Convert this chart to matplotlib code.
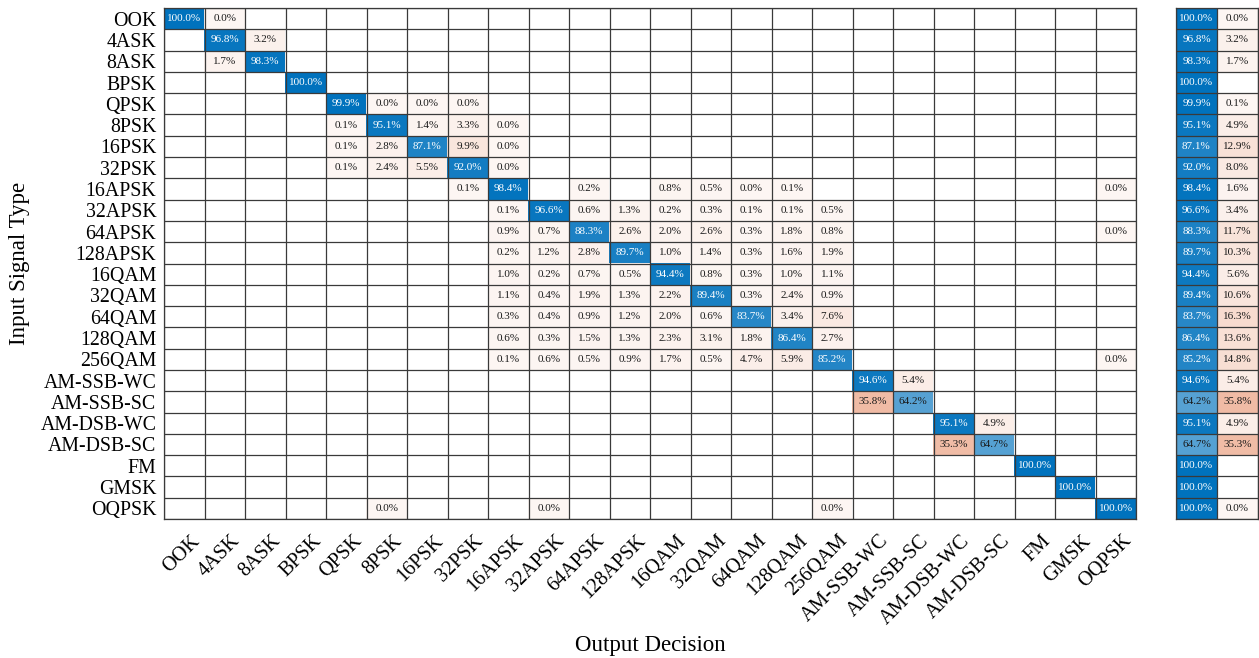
import numpy as np
import matplotlib
matplotlib.use("Agg")
import matplotlib.pyplot as plt
from matplotlib.transforms import ScaledTranslation

plt.rcParams['font.family'] = ['Liberation Serif', 'DejaVu Serif']

classes = ["OOK", "4ASK", "8ASK", "BPSK", "QPSK", "8PSK", "16PSK", "32PSK",
           "16APSK", "32APSK", "64APSK", "128APSK", "16QAM", "32QAM", "64QAM",
           "128QAM", "256QAM", "AM-SSB-WC", "AM-SSB-SC", "AM-DSB-WC",
           "AM-DSB-SC", "FM", "GMSK", "OQPSK"]

# Row-normalised confusion entries (percent): {predicted column: value}
# Cells that never occur are left out and drawn blank.
rows = [
    {0: 100.0, 1: 0.0},
    {1: 96.8, 2: 3.2},
    {1: 1.7, 2: 98.3},
    {3: 100.0},
    {4: 99.9, 5: 0.0, 6: 0.0, 7: 0.0},
    {4: 0.1, 5: 95.1, 6: 1.4, 7: 3.3, 8: 0.0},
    {4: 0.1, 5: 2.8, 6: 87.1, 7: 9.9, 8: 0.0},
    {4: 0.1, 5: 2.4, 6: 5.5, 7: 92.0, 8: 0.0},
    {7: 0.1, 8: 98.4, 10: 0.2, 12: 0.8, 13: 0.5, 14: 0.0, 15: 0.1, 23: 0.0},
    {8: 0.1, 9: 96.6, 10: 0.6, 11: 1.3, 12: 0.2, 13: 0.3, 14: 0.1, 15: 0.1, 16: 0.5},
    {8: 0.9, 9: 0.7, 10: 88.3, 11: 2.6, 12: 2.0, 13: 2.6, 14: 0.3, 15: 1.8, 16: 0.8, 23: 0.0},
    {8: 0.2, 9: 1.2, 10: 2.8, 11: 89.7, 12: 1.0, 13: 1.4, 14: 0.3, 15: 1.6, 16: 1.9},
    {8: 1.0, 9: 0.2, 10: 0.7, 11: 0.5, 12: 94.4, 13: 0.8, 14: 0.3, 15: 1.0, 16: 1.1},
    {8: 1.1, 9: 0.4, 10: 1.9, 11: 1.3, 12: 2.2, 13: 89.4, 14: 0.3, 15: 2.4, 16: 0.9},
    {8: 0.3, 9: 0.4, 10: 0.9, 11: 1.2, 12: 2.0, 13: 0.6, 14: 83.7, 15: 3.4, 16: 7.6},
    {8: 0.6, 9: 0.3, 10: 1.5, 11: 1.3, 12: 2.3, 13: 3.1, 14: 1.8, 15: 86.4, 16: 2.7},
    {8: 0.1, 9: 0.6, 10: 0.5, 11: 0.9, 12: 1.7, 13: 0.5, 14: 4.7, 15: 5.9, 16: 85.2, 23: 0.0},
    {17: 94.6, 18: 5.4},
    {17: 35.8, 18: 64.2},
    {19: 95.1, 20: 4.9},
    {19: 35.3, 20: 64.7},
    {21: 100.0},
    {22: 100.0},
    {5: 0.0, 9: 0.0, 16: 0.0, 23: 100.0},
]

# Row summary: correct / incorrect percentage per true class (blank = none)
correct = [100.0, 96.8, 98.3, 100.0, 99.9, 95.1, 87.1, 92.0, 98.4, 96.6, 88.3,
           89.7, 94.4, 89.4, 83.7, 86.4, 85.2, 94.6, 64.2, 95.1, 64.7, 100.0,
           100.0, 100.0]
incorrect = [0.0, 3.2, 1.7, None, 0.1, 4.9, 12.9, 8.0, 1.6, 3.4, 11.7, 10.3,
             5.6, 10.6, 16.3, 13.6, 14.8, 5.4, 35.8, 4.9, 35.3, None, None, 0.0]

n = len(classes)
BLUE = np.array([0, 114, 189]) / 255.0
ORANGE = np.array([217, 83, 25]) / 255.0
WHITE = np.ones(3)
GRID = '#3a3a3a'


def shade(base, v):
    t = 0.05 + 0.95 * v / 100.0
    return WHITE * (1 - t) + base * t


def cell_text(ax, x, y, v, base):
    t = 0.05 + 0.95 * v / 100.0
    color = 'white' if (base is BLUE and t > 0.72) else '#1a1a1a'
    ax.text(x, y, f"{v:.1f}%", ha='center', va='center', fontsize=8,
            color=color)


W, H = 1259, 658
fig = plt.figure(figsize=(W / 100, H / 100), dpi=100)

# main confusion matrix
ax = fig.add_axes([164 / W, (H - 519) / H, 972 / W, 511 / H])
img = np.ones((n, n, 3))
for i, r in enumerate(rows):
    for j, v in r.items():
        img[i, j] = shade(BLUE if i == j else ORANGE, v)
ax.imshow(img, aspect='auto', interpolation='nearest',
          extent=(-0.5, n - 0.5, n - 0.5, -0.5))
for i, r in enumerate(rows):
    for j, v in r.items():
        cell_text(ax, j, i, v, BLUE if i == j else ORANGE)

for k in range(n + 1):
    ax.axhline(k - 0.5, color=GRID, lw=0.9)
    ax.axvline(k - 0.5, color=GRID, lw=0.9)
ax.set_xlim(-0.5, n - 0.5)
ax.set_ylim(n - 0.5, -0.5)
ax.set_xticks(range(n))
ax.set_yticks(range(n))
ax.set_xticklabels(classes, rotation=45, ha='right', va='top',
                   rotation_mode='anchor', fontsize=14.6)
ax.set_yticklabels(classes, fontsize=14.3)
ax.tick_params(length=0)
ax.tick_params(axis='y', pad=5.5)
ax.tick_params(axis='x', pad=9)
shift = ScaledTranslation(6 / 100, 0, fig.dpi_scale_trans)
for lab in ax.get_xticklabels():
    lab.set_transform(lab.get_transform() + shift)
for s in ax.spines.values():
    s.set_color(GRID)
    s.set_linewidth(0.9)
ax.set_xlabel("Output Decision", fontsize=16.5, va='center')
ax.xaxis.set_label_coords(0.5, -(645 - 519) / 511)
ax.set_ylabel("Input Signal Type", fontsize=16.5, va='center')
ax.yaxis.set_label_coords(-(164 - 20) / 972, 0.5)

# row summary
ax2 = fig.add_axes([1176 / W, (H - 519) / H, 82 / W, 511 / H])
simg = np.ones((n, 2, 3))
for i in range(n):
    simg[i, 0] = shade(BLUE, correct[i])
    if incorrect[i] is not None:
        simg[i, 1] = shade(ORANGE, incorrect[i])
ax2.imshow(simg, aspect='auto', interpolation='nearest',
           extent=(-0.5, 1.5, n - 0.5, -0.5))
for i in range(n):
    cell_text(ax2, 0, i, correct[i], BLUE)
    if incorrect[i] is not None:
        cell_text(ax2, 1, i, incorrect[i], ORANGE)
for k in range(n + 1):
    ax2.axhline(k - 0.5, color=GRID, lw=0.9)
for k in range(3):
    ax2.axvline(k - 0.5, color=GRID, lw=0.9)
ax2.set_xlim(-0.5, 1.5)
ax2.set_ylim(n - 0.5, -0.5)
ax2.set_xticks([])
ax2.set_yticks([])
for s in ax2.spines.values():
    s.set_color(GRID)
    s.set_linewidth(0.9)

fig.savefig("out.png", dpi=100)
